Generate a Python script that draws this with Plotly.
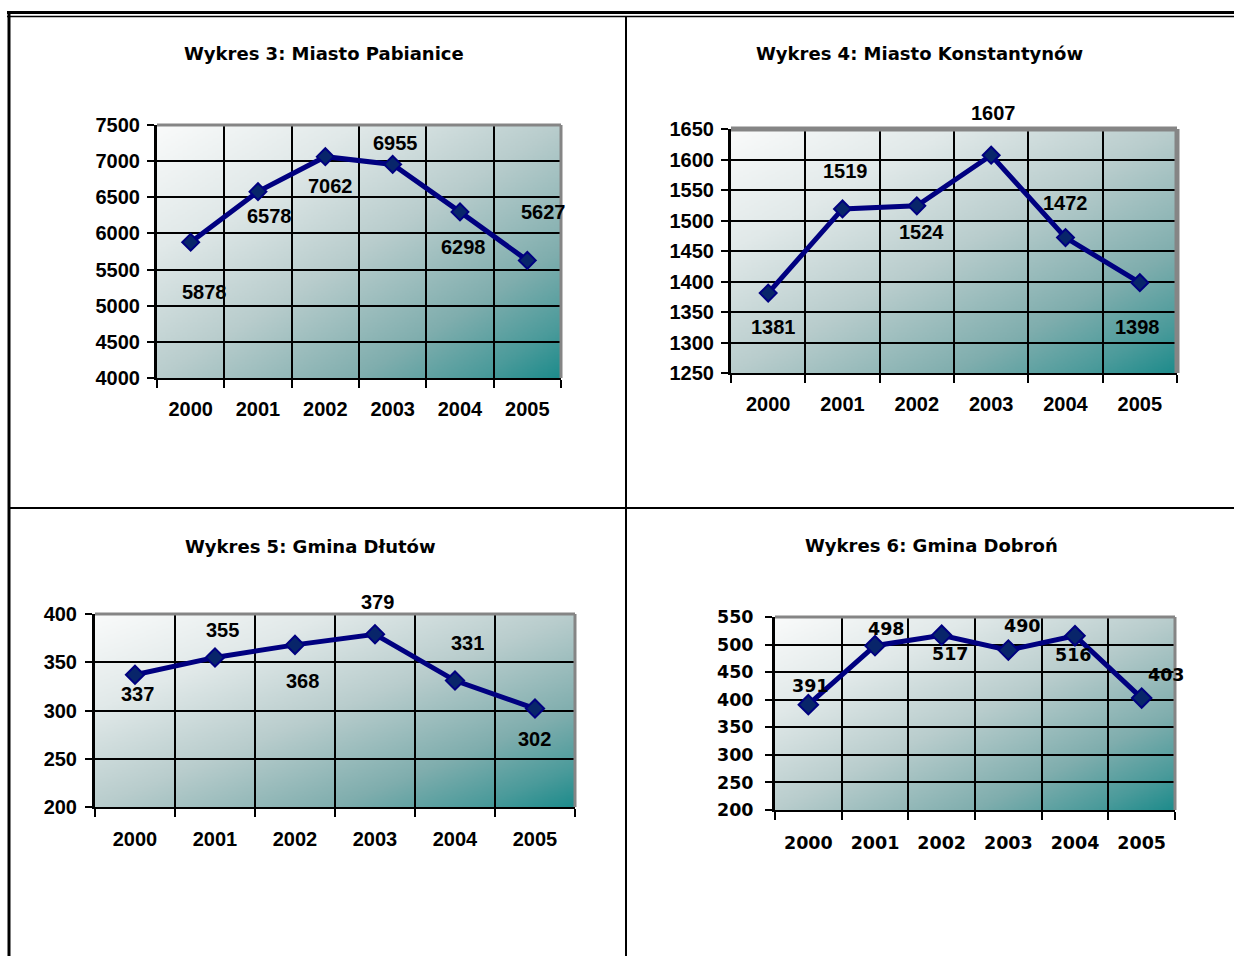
import base64, struct, zlib
import numpy as np
import plotly.graph_objects as go

W, H = 1234, 956

# ---------------- data ----------------
years = ["2000", "2001", "2002", "2003", "2004", "2005"]

titles = ["Wykres 3: Miasto Pabianice", "Wykres 4: Miasto Konstantynów",
          "Wykres 5: Gmina Dłutów", "Wykres 6: Gmina Dobroń"]

pabianice = [5878, 6578, 7062, 6955, 6298, 5627]
konstantynow = [1381, 1519, 1524, 1607, 1472, 1398]
dlutow = [337, 355, 368, 379, 331, 302]
dobron = [391, 498, 517, 490, 516, 403]

series = [pabianice, konstantynow, dlutow, dobron]

y_ranges = [(4000, 7500), (1250, 1650), (200, 400), (200, 550)]
y_dticks = [500, 50, 50, 50]

# ---------------- layout / style (pixels) ----------------
plot_boxes = [  # x0, x1, ytop, ybottom in page pixels
    (157, 561, 125, 378),
    (731, 1177, 129, 373),
    (95, 575, 614, 807),
    (775, 1175, 617, 810),
]
title_pos = [(324, 54), (919, 54), (310, 546), (931, 545)]

# label offsets (dx right, dy down) in pixels relative to each point
label_offsets = [
    [(14, 50), (11, 24), (5, 29), (3, -21), (3, 35), (16, -48)],
    [(5, 34), (3, -38), (5, 26), (2, -42), (0, -35), (-2, 44)],
    [(2, 19), (7, -27), (7, 36), (2, -32), (12, -38), (-1, 30)],
    [(2, -19), (11, -17), (9, 19), (14, -24), (-2, 19), (25, -23)],
]

fonts = [
    dict(family="Liberation Sans, Arial, sans-serif", size=20, color="black", weight="bold"),
    dict(family="Liberation Sans, Arial, sans-serif", size=20, color="black", weight="bold"),
    dict(family="Liberation Sans, Arial, sans-serif", size=20, color="black", weight="bold"),
    dict(family="DejaVu Sans, Verdana, sans-serif", size=17.5, color="black", weight="bold"),
]
marker_sizes = [13, 13, 14, 15]
frame_widths = [3, 5, 3, 3]
y_standoff = [3, 3, 4, 8]
x_standoff = [12, 12, 13, 16]


def gradient_png(w=240, h=150):
    xs = np.linspace(0, 1, w)[None, :]
    ys = np.linspace(0, 1, h)[:, None]
    t = (xs + ys) / 2.0
    stops = [0.0, 0.25, 0.5, 0.75, 0.9, 1.0]
    cols = np.array([(250, 251, 251), (225, 233, 233), (185, 205, 205),
                     (128, 174, 174), (75, 155, 155), (30, 140, 140)], float)
    img = np.zeros((h, w, 3))
    for c in range(3):
        img[:, :, c] = np.interp(t, stops, cols[:, c])
    img = img.astype(np.uint8)
    raw = b"".join(b"\x00" + img[r].tobytes() for r in range(h))

    def chunk(tag, data):
        c = struct.pack(">I", len(data)) + tag + data
        return c + struct.pack(">I", zlib.crc32(tag + data) & 0xffffffff)

    png = b"\x89PNG\r\n\x1a\n" + chunk(b"IHDR", struct.pack(">IIBBBBB", w, h, 8, 2, 0, 0, 0)) \
        + chunk(b"IDAT", zlib.compress(raw, 9)) + chunk(b"IEND", b"")
    return "data:image/png;base64," + base64.b64encode(png).decode()


bg = gradient_png()

fig = go.Figure()
layout = dict(
    width=W, height=H, margin=dict(l=0, r=0, t=0, b=0, autoexpand=False),
    paper_bgcolor="white", plot_bgcolor="rgba(0,0,0,0)",
    showlegend=False, images=[], annotations=[], shapes=[],
)

for i in range(4):
    x0, x1, yt, yb = plot_boxes[i]
    dom_x = [x0 / W, x1 / W]
    dom_y = [1 - yb / H, 1 - yt / H]
    sfx = "" if i == 0 else str(i + 1)
    xa, ya = "x" + sfx, "y" + sfx
    f = fonts[i]

    fig.add_trace(go.Scatter(
        x=years, y=series[i], xaxis=xa, yaxis=ya, mode="lines+markers",
        line=dict(color="#000080", width=5),
        marker=dict(symbol="diamond", size=marker_sizes[i], color="#08256a",
                    line=dict(color="#000080", width=2)),
        cliponaxis=False, hoverinfo="skip",
    ))

    layout["xaxis" + sfx] = dict(
        domain=dom_x, anchor=ya, type="category", range=[-0.5, 5.5],
        tickson="boundaries", ticks="outside", ticklen=8, tickwidth=2, tickcolor="black",
        showgrid=True, gridcolor="black", gridwidth=2,
        showline=True, linecolor="black", linewidth=2,
        tickfont=f, ticklabelstandoff=x_standoff[i], fixedrange=True,
    )
    layout["yaxis" + sfx] = dict(
        domain=dom_y, anchor=xa, range=list(y_ranges[i]),
        tick0=y_ranges[i][0], dtick=y_dticks[i],
        ticks="outside", ticklen=7, tickwidth=2, tickcolor="black",
        showgrid=True, gridcolor="black", gridwidth=2, zeroline=False,
        showline=True, linecolor="black", linewidth=3,
        tickfont=f, ticklabelstandoff=y_standoff[i], fixedrange=True,
    )

    layout["images"].append(dict(
        source=bg, xref="paper", yref="paper", x=dom_x[0], y=dom_y[1],
        sizex=dom_x[1] - dom_x[0], sizey=dom_y[1] - dom_y[0],
        sizing="stretch", xanchor="left", yanchor="top", layer="below",
    ))

    # gray frame (top and right)
    fw = frame_widths[i]
    layout["shapes"].append(dict(type="line", xref=xa + " domain", yref=ya + " domain",
                                 x0=0, x1=1, y0=1, y1=1, layer="above",
                                 line=dict(color="#858585", width=fw)))
    layout["shapes"].append(dict(type="line", xref=xa + " domain", yref=ya + " domain",
                                 x0=1, x1=1, y0=0, y1=1, layer="above",
                                 line=dict(color="#858585", width=fw)))

    # data labels (category axis: position given by category index)
    for j, v in enumerate(series[i]):
        dx, dy = label_offsets[i][j]
        layout["annotations"].append(dict(
            x=j, y=v, xref=xa, yref=ya, text=str(v), showarrow=False,
            xshift=dx, yshift=-dy, font=f,
        ))

    # title
    tx, ty = title_pos[i]
    layout["annotations"].append(dict(
        x=tx / W, y=1 - ty / H, xref="paper", yref="paper", text=titles[i],
        showarrow=False, xanchor="center", yanchor="middle",
        font=dict(family="DejaVu Sans, Verdana, sans-serif", size=18, color="black", weight="bold"),
    ))

# table borders (page pixels)
def pline(xa0, ya0, xa1, ya1, w):
    layout["shapes"].append(dict(type="line", xref="paper", yref="paper",
                                 x0=xa0 / W, x1=xa1 / W, y0=1 - ya0 / H, y1=1 - ya1 / H,
                                 line=dict(color="black", width=w)))

pline(7, 12.5, W, 12.5, 3)
pline(7, 16.5, W, 16.5, 1.5)
pline(9, 12, 9, H, 3)
pline(626, 16, 626, H, 2)
pline(9, 508, W, 508, 2)

fig.update_layout(**layout)
fig.write_html("out.html", config={"displayModeBar": False},
               post_script="document.body.style.margin='0';document.body.style.overflow='hidden';")
